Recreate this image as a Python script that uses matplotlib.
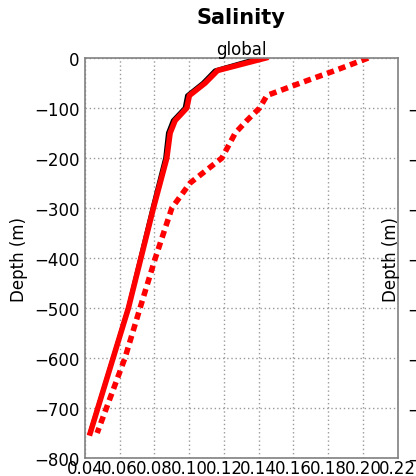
import matplotlib
matplotlib.use("Agg")
import matplotlib.pyplot as plt
import numpy as np

# salinity profiles (global)
depth_solid = [0, -25, -50, -75, -100, -125, -150, -200, -300, -500, -750]
obs_solid = [0.144, 0.1163, 0.1092, 0.1001, 0.0986, 0.0919, 0.0890, 0.0871, 0.0794, 0.0650, 0.0430]
model_solid = [0.140, 0.1148, 0.1078, 0.0988, 0.0974, 0.0906, 0.0878, 0.0862, 0.0789, 0.0649, 0.0429]

depth_dash = [0, -25, -50, -75, -100, -125, -150, -200, -250, -300, -400, -500, -600, -750]
dash_vals = [0.203, 0.184, 0.164, 0.1447, 0.1405, 0.1332, 0.1265, 0.1188, 0.1005, 0.0900, 0.0805, 0.0717, 0.0630, 0.0470]

xticks = np.arange(0.04, 0.2201, 0.02)
yticks = np.arange(-800, 1, 100)

fig = plt.figure(figsize=(4.16, 4.77), dpi=100)
ax = fig.add_axes([0.2043, 0.0377, 0.7517, 0.8386])

ax.plot(model_solid, depth_solid, color="black", lw=3, solid_capstyle="projecting")
ax.plot(obs_solid, depth_solid, color="red", lw=4, solid_capstyle="projecting")
ax.plot(dash_vals, depth_dash, color="red", lw=4, dashes=(1.3, 0.9))

ax.set_xlim(0.04, 0.22)
ax.set_ylim(-800, 0)
ax.set_xticks(xticks)
ax.set_xticklabels(["%.2f" % v for v in xticks])
ax.set_yticks(yticks)
ax.tick_params(axis="y", length=0, labelsize=12, pad=4)
ax.tick_params(axis="x", length=0, labelsize=12, pad=1)
ax.grid(True, linestyle=(0, (1, 2)), color="0.6", lw=1)
for s in ax.spines.values():
    s.set_color("0.5")
    s.set_linewidth(1.2)
ax.set_ylabel("Depth (m)", fontsize=12)
ax.set_title("global", fontsize=12, pad=2)
fig.text(241 / 416, 1 - 18 / 477, "Salinity", fontsize=15, fontweight="bold",
         ha="center", va="center")

# neighbouring panel, mostly cut off at the right edge
ax2 = fig.add_axes([458 / 416, 0.0377, 0.7517, 0.8386])
ax2.set_ylim(-800, 0)
ax2.set_yticks(yticks)
ax2.tick_params(length=0, labelsize=12, pad=4)
ax2.set_ylabel("Depth (m)", fontsize=12)
ax2.yaxis.set_label_coords(-0.185, 0.5)

fig.savefig("out.png", dpi=100)
